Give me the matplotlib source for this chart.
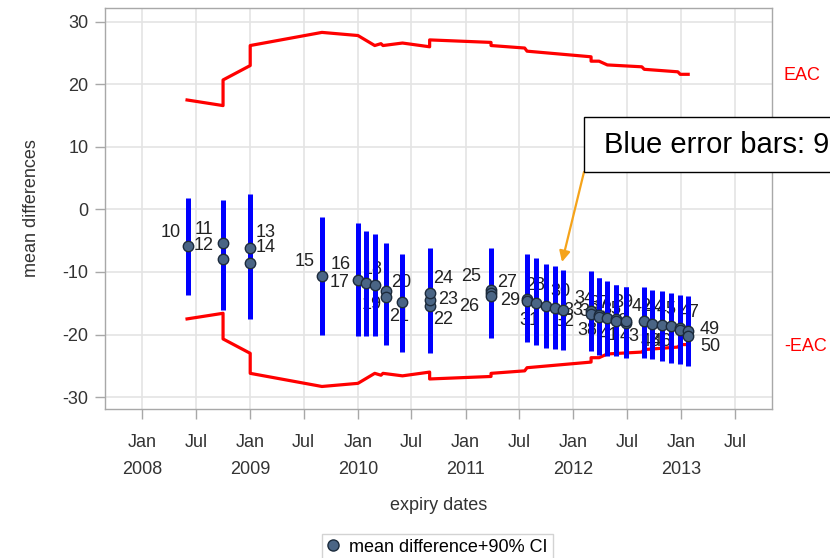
import matplotlib
matplotlib.use("Agg")
import matplotlib.pyplot as plt
import matplotlib.dates as mdates
from matplotlib.lines import Line2D
from matplotlib.patches import Rectangle
import pandas as pd

plt.rcParams['font.family'] = ['Liberation Sans', 'DejaVu Sans']
plt.rcParams['axes.unicode_minus'] = False

# ---- data: mean differences with 90% CI by expiry date ----
point_ids = list(range(10, 51))
point_dates = ['2008-06-05', '2008-10-01', '2008-10-01', '2009-01-01', '2009-01-01',
               '2009-09-01', '2010-01-01', '2010-01-28', '2010-02-27', '2010-04-05',
               '2010-04-05', '2010-06-01', '2010-09-01', '2010-09-01', '2010-09-01',
               '2011-03-28', '2011-03-28', '2011-03-28', '2011-07-28', '2011-07-28',
               '2011-08-28', '2011-10-01', '2011-11-01', '2011-11-28', '2012-03-01',
               '2012-03-01', '2012-03-28', '2012-03-28', '2012-04-25', '2012-05-25',
               '2012-05-25', '2012-06-28', '2012-06-28', '2012-08-28', '2012-09-24',
               '2012-10-28', '2012-11-28', '2012-12-28', '2012-12-28', '2013-01-24',
               '2013-01-24']
mean_diff = [-5.85, -5.4, -8.0, -6.1, -8.5,
             -10.7, -11.3, -11.8, -12.1, -13.0,
             -14.0, -14.8, -15.5, -14.4, -13.3,
             -12.8, -13.4, -13.9, -14.3, -14.6,
             -14.9, -15.4, -15.7, -16.1, -16.3,
             -16.7, -16.8, -17.2, -17.4, -17.5,
             -17.9, -18.1, -17.8, -17.9, -18.3,
             -18.5, -18.7, -19.0, -19.3, -19.4,
             -20.3]
ci_lower = [-13.7, -13.0, -16.1, -14.5, -17.5,
            -20.0, -20.3, -20.3, -20.3, -20.6,
            -21.7, -22.8, -23.0, -22.0, -21.0,
            -20.0, -20.3, -20.6, -21.2, -21.0,
            -21.7, -22.2, -22.3, -22.5, -22.6,
            -22.4, -23.3, -23.0, -23.5, -23.5,
            -23.3, -23.7, -23.5, -23.7, -23.9,
            -24.2, -24.5, -24.7, -24.5, -25.0,
            -24.8]
ci_upper = [1.75, 1.5, 0.2, 2.4, 0.6,
            -1.2, -2.2, -3.5, -4.0, -5.3,
            -6.0, -7.2, -8.0, -7.0, -6.2,
            -6.2, -6.5, -7.0, -7.2, -7.4,
            -7.8, -8.8, -9.1, -9.7, -9.8,
            -10.2, -10.9, -11.0, -11.4, -12.0,
            -12.0, -12.4, -12.4, -12.4, -12.9,
            -13.0, -13.3, -13.6, -13.8, -13.9,
            -14.0]

# equivalence acceptance criterion (upper limit, lower is the mirror)
eac_dates = ['2008-06-01', '2008-10-01', '2008-10-01', '2009-01-01', '2009-01-01',
             '2009-09-01', '2010-01-01', '2010-02-27', '2010-03-20', '2010-03-27',
             '2010-06-01', '2010-09-01', '2010-09-01', '2011-03-28', '2011-03-28',
             '2011-07-20', '2011-07-28', '2012-03-01', '2012-03-01', '2012-03-28',
             '2012-04-25', '2012-08-20', '2012-08-28', '2012-12-20', '2012-12-28',
             '2013-01-24']
eac_values = [17.5, 16.6, 20.7, 23.0, 26.2,
              28.3, 27.8, 26.2, 26.5, 26.2,
              26.6, 26.0, 27.1, 26.7, 26.2,
              25.8, 25.3, 24.4, 23.7, 23.7,
              23.1, 22.8, 22.4, 22.0, 21.6,
              21.6]

# label placement (pixel offsets from each point)
label_offsets = {
    10: (-18, 14), 11: (-19, 14), 12: (-19, 14), 13: (15, 15), 14: (15, 15),
    15: (-17, 15), 16: (-17, 16), 17: (-26, 1), 18: (-2, 16), 19: (-14, -14),
    20: (16, 15), 21: (-3, -14), 22: (13, -13), 23: (18, 0), 24: (13, 14),
    25: (-20, 13), 26: (-22, -13), 27: (16, 14), 28: (8, 13), 29: (-17, 0),
    30: (24, 11), 31: (-17, -15), 32: (9, -14), 33: (10, 0),
    34: (-7, 13), 35: (20, 4), 36: (-10, 3), 37: (0, 14), 38: (-20, -12),
    39: (7, 16), 40: (3, 0), 41: (-18, -13), 42: (15, 14), 43: (-15, -15),
    44: (2, 16), 45: (4, 16), 46: (-10, -15), 47: (9, 16), 48: (-30, -11),
    49: (22, 1), 50: (22, -10),
}

dates = pd.to_datetime(point_dates)
eac_x = pd.to_datetime(eac_dates)

fig = plt.figure(figsize=(8.3, 5.58), dpi=100)
ax = fig.add_axes([105 / 830, 1 - 409 / 558, 667 / 830, 401 / 558])

ax.plot(eac_x, eac_values, color='#ff0000', lw=2.3, zorder=2)
ax.plot(eac_x, [-v for v in eac_values], color='#ff0000', lw=2.3, zorder=2)

ax.vlines(dates, ci_lower, ci_upper, color='#0000ff', lw=3.6, zorder=3)
ax.plot(dates, mean_diff, 'o', ms=7.5, mfc='#4a6585', mec='#1c2b3c', mew=1.0, zorder=4)

for pid, d, m in zip(point_ids, dates, mean_diff):
    ax.annotate(str(pid), (d, m), xytext=label_offsets[pid], textcoords='offset pixels',
                ha='center', va='center', fontsize=13, color='#222222', zorder=2.5)

ax.set_xlim(pd.Timestamp('2007-08-28'), pd.Timestamp('2013-11-04'))
ax.set_ylim(-31.9, 32.2)
ax.set_yticks(range(-30, 31, 10))
ax.xaxis.set_major_locator(mdates.MonthLocator(bymonth=[1, 7]))


def fmt_date(x, pos=None):
    d = mdates.num2date(x)
    if d.month == 1:
        return 'Jan\n%d' % d.year
    return 'Jul'


ax.xaxis.set_major_formatter(plt.FuncFormatter(fmt_date))

ax.grid(True, color='#e4e4e4', lw=1.2, zorder=0)
ax.set_axisbelow(True)
for s in ax.spines.values():
    s.set_color('#a8a8a8')
    s.set_linewidth(1.0)
ax.tick_params(axis='both', colors='#a8a8a8', labelcolor='#333333', labelsize=13,
               length=7, width=1)
ax.tick_params(axis='x', pad=11)
ax.tick_params(axis='y', pad=5)
for lab in ax.get_xticklabels():
    lab.set_linespacing(1.75)

ax.set_xlabel('expiry dates', fontsize=13, color='#333333', labelpad=14)
ax.set_ylabel('mean differences', fontsize=13, color='#333333', labelpad=16)

# EAC labels outside the frame
ax.text(1.045, eac_values[-1] - 0.2, 'EAC', transform=ax.get_yaxis_transform(),
        color='#ff0000', fontsize=13, ha='center', va='center', clip_on=False)
ax.text(1.05, -eac_values[-1] - 0.3, '-EAC', transform=ax.get_yaxis_transform(),
        color='#ff0000', fontsize=13, ha='center', va='center', clip_on=False)

# callout box with arrow
fig.patches.append(Rectangle((584 / 830, 1 - 172 / 558), 260 / 830, 55 / 558,
                             transform=fig.transFigure, facecolor='white',
                             edgecolor='black', lw=1.0, zorder=10))
fig.text(604 / 830, 1 - 145 / 558, 'Blue error bars: 9', fontsize=21,
         ha='left', va='center', color='black', zorder=11)
ax.annotate('', xy=(562 / 830, 1 - 262 / 558), xycoords='figure fraction',
            xytext=(584 / 830, 1 - 172 / 558), textcoords='figure fraction',
            arrowprops=dict(arrowstyle='-|>', color='#f5a31a', lw=1.6,
                            mutation_scale=16, shrinkA=0, shrinkB=0),
            annotation_clip=False, zorder=9)

# legend
handle = Line2D([], [], ls='none', marker='o', ms=8, mfc='#4a6585', mec='#1c2b3c')
fig.legend([handle], ['mean difference+90% CI'], loc='upper center',
           bbox_to_anchor=(437 / 830, 1 - 534 / 558), fontsize=13,
           frameon=True, fancybox=False, edgecolor='#c8c8c8', borderaxespad=0,
           handlelength=0.8, handletextpad=0.5, borderpad=0.25)

fig.savefig('out.png', dpi=100)
